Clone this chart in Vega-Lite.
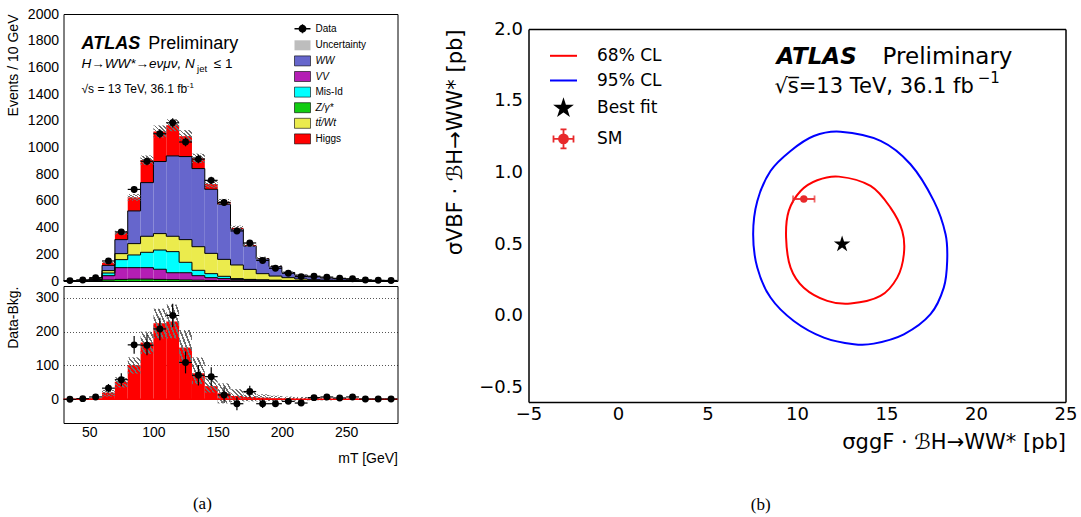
{
  "$schema": "https://vega.github.io/schema/vega-lite/v6.json",
  "background": "white",
  "padding": {"left": 5.5, "top": 7, "right": 2, "bottom": 2},
  "config": {
    "view": {"stroke": null},
    "font": "Liberation Sans",
    "axis": {"domainColor": "black", "tickColor": "black", "labelColor": "black", "titleColor": "black", "grid": false, "tickSize": 0, "labelOverlap": false, "labelFlush": false, "titleFontWeight": "normal"}
  },
  "datasets": {
    "bins": [
      {"lo":30,"hi":40,"c":35,"Z":0.3,"VV":0.5,"MisId":0.5,"top":0.5,"WW":1,"Higgs":0.2,"tl":2,"th":4,"d":3,"e":1.7,"diff":0,"bl":-1,"bh":1},
      {"lo":40,"hi":50,"c":45,"Z":0.5,"VV":1,"MisId":1,"top":1,"WW":2.5,"Higgs":1,"tl":5.5,"th":8.5,"d":8,"e":2.8,"diff":2,"bl":-1.5,"bh":2},
      {"lo":50,"hi":60,"c":55,"Z":1,"VV":4,"MisId":4,"top":3,"WW":6,"Higgs":3,"tl":18,"th":24,"d":25,"e":5,"diff":7,"bl":-2,"bh":5},
      {"lo":60,"hi":70,"c":65,"Z":8,"VV":32,"MisId":20,"top":18,"WW":39,"Higgs":20,"tl":129,"th":145,"d":150,"e":12.2,"diff":33,"bl":8,"bh":28},
      {"lo":70,"hi":80,"c":75,"Z":12,"VV":88,"MisId":60,"top":45,"WW":105,"Higgs":52,"tl":347,"th":377,"d":368,"e":19.2,"diff":58,"bl":35,"bh":65},
      {"lo":80,"hi":90,"c":85,"Z":14,"VV":86,"MisId":95,"top":85,"WW":245,"Higgs":101,"tl":601,"th":651,"d":686,"e":26.2,"diff":161,"bl":76,"bh":124},
      {"lo":90,"hi":100,"c":95,"Z":14,"VV":86,"MisId":115,"top":120,"WW":402,"Higgs":168,"tl":870,"th":940,"d":897,"e":30,"diff":160,"bl":134,"bh":200},
      {"lo":100,"hi":110,"c":105,"Z":12,"VV":76,"MisId":144,"top":123,"WW":540,"Higgs":225,"tl":1075,"th":1165,"d":1103,"e":33.2,"diff":208,"bl":180,"bh":268},
      {"lo":110,"hi":120,"c":115,"Z":10,"VV":52,"MisId":158,"top":115,"WW":602,"Higgs":230,"tl":1122,"th":1212,"d":1185,"e":34.4,"diff":248,"bl":180,"bh":280},
      {"lo":120,"hi":130,"c":125,"Z":8,"VV":54,"MisId":78,"top":170,"WW":622,"Higgs":153,"tl":1040,"th":1130,"d":1041,"e":32.3,"diff":109,"bl":105,"bh":205},
      {"lo":130,"hi":140,"c":135,"Z":6,"VV":34,"MisId":40,"top":177,"WW":585,"Higgs":77,"tl":884,"th":954,"d":913,"e":30.2,"diff":71,"bl":45,"bh":124},
      {"lo":140,"hi":150,"c":145,"Z":4,"VV":21,"MisId":30,"top":152,"WW":480,"Higgs":39,"tl":698,"th":754,"d":754,"e":27.5,"diff":67,"bl":20,"bh":62},
      {"lo":150,"hi":160,"c":155,"Z":3,"VV":15,"MisId":17,"top":127,"WW":413,"Higgs":18,"tl":571,"th":615,"d":588,"e":24.2,"diff":13,"bl":-12,"bh":47},
      {"lo":160,"hi":170,"c":165,"Z":2,"VV":10,"MisId":6,"top":102,"WW":268,"Higgs":10,"tl":381,"th":415,"d":375,"e":19.4,"diff":-13,"bl":-8,"bh":30},
      {"lo":170,"hi":180,"c":175,"Z":2,"VV":6,"MisId":4,"top":75,"WW":175,"Higgs":7,"tl":256,"th":282,"d":285,"e":16.9,"diff":23,"bl":-6,"bh":22},
      {"lo":180,"hi":190,"c":185,"Z":1,"VV":5,"MisId":3,"top":46,"WW":112,"Higgs":5,"tl":162,"th":182,"d":154,"e":12.4,"diff":-13,"bl":-6,"bh":15},
      {"lo":190,"hi":200,"c":195,"Z":1,"VV":3,"MisId":2,"top":31,"WW":71,"Higgs":3,"tl":103,"th":119,"d":95,"e":9.7,"diff":-13,"bl":-5,"bh":11},
      {"lo":200,"hi":210,"c":205,"Z":1,"VV":2,"MisId":1,"top":21,"WW":39,"Higgs":2,"tl":60,"th":72,"d":58,"e":7.6,"diff":-6,"bl":-4,"bh":8},
      {"lo":210,"hi":220,"c":215,"Z":0.5,"VV":1.5,"MisId":1,"top":12,"WW":29,"Higgs":1,"tl":40,"th":50,"d":33,"e":5.7,"diff":-11,"bl":-4,"bh":7},
      {"lo":220,"hi":230,"c":225,"Z":0.5,"VV":1,"MisId":0.5,"top":8,"WW":21,"Higgs":1,"tl":28,"th":36,"d":36,"e":6,"diff":5,"bl":-3,"bh":6},
      {"lo":230,"hi":240,"c":235,"Z":0.3,"VV":0.7,"MisId":0.5,"top":5.5,"WW":15,"Higgs":0.5,"tl":19.5,"th":25.5,"d":29,"e":5.4,"diff":7,"bl":-3,"bh":5},
      {"lo":240,"hi":250,"c":245,"Z":0.2,"VV":0.5,"MisId":0.3,"top":4,"WW":11,"Higgs":0.3,"tl":14,"th":19,"d":20,"e":4.5,"diff":4,"bl":-2,"bh":4},
      {"lo":250,"hi":260,"c":255,"Z":0.2,"VV":0.3,"MisId":0.3,"top":2.2,"WW":7,"Higgs":0.2,"tl":8,"th":12,"d":17,"e":4.1,"diff":7,"bl":-2,"bh":3},
      {"lo":260,"hi":270,"c":265,"Z":0.1,"VV":0.2,"MisId":0.2,"top":1.5,"WW":5,"Higgs":0.1,"tl":5.5,"th":8.5,"d":8,"e":2.8,"diff":1,"bl":-1.5,"bh":2},
      {"lo":270,"hi":280,"c":275,"Z":0.1,"VV":0.1,"MisId":0.1,"top":0.7,"WW":3,"Higgs":0.1,"tl":3,"th":5,"d":5,"e":2.2,"diff":1,"bl":-1,"bh":1.5},
      {"lo":280,"hi":290,"c":285,"Z":0.1,"VV":0.1,"MisId":0.1,"top":0.7,"WW":2,"Higgs":0.05,"tl":2,"th":4,"d":4,"e":2,"diff":1,"bl":-1,"bh":1.5}
    ],
    "contours": [
      {"cl":"68% CL","x":12.34,"y":0.971},{"cl":"68% CL","x":14.11,"y":0.906},{"cl":"68% CL","x":15.22,"y":0.755},{"cl":"68% CL","x":15.88,"y":0.592},{"cl":"68% CL","x":15.97,"y":0.43},{"cl":"68% CL","x":15.6,"y":0.267},{"cl":"68% CL","x":14.66,"y":0.139},{"cl":"68% CL","x":12.99,"y":0.086},{"cl":"68% CL","x":11.69,"y":0.105},{"cl":"68% CL","x":10.38,"y":0.197},{"cl":"68% CL","x":9.64,"y":0.337},{"cl":"68% CL","x":9.39,"y":0.546},{"cl":"68% CL","x":9.54,"y":0.732},{"cl":"68% CL","x":10.2,"y":0.871},{"cl":"68% CL","x":11.13,"y":0.946},
      {"cl":"95% CL","x":12.43,"y":1.284},{"cl":"95% CL","x":14.67,"y":1.22},{"cl":"95% CL","x":16.34,"y":1.057},{"cl":"95% CL","x":17.65,"y":0.8},{"cl":"95% CL","x":18.3,"y":0.569},{"cl":"95% CL","x":18.39,"y":0.383},{"cl":"95% CL","x":18.2,"y":0.197},{"cl":"95% CL","x":17.46,"y":0.012},{"cl":"95% CL","x":15.97,"y":-0.128},{"cl":"95% CL","x":14.29,"y":-0.193},{"cl":"95% CL","x":13.18,"y":-0.197},{"cl":"95% CL","x":11.5,"y":-0.151},{"cl":"95% CL","x":9.82,"y":-0.035},{"cl":"95% CL","x":8.52,"y":0.128},{"cl":"95% CL","x":7.78,"y":0.337},{"cl":"95% CL","x":7.55,"y":0.569},{"cl":"95% CL","x":7.78,"y":0.8},{"cl":"95% CL","x":8.52,"y":1.01},{"cl":"95% CL","x":9.64,"y":1.15},{"cl":"95% CL","x":10.94,"y":1.254}
    ],
    "best": [{"x":12.52,"y":0.5}],
    "sm": [{"x":10.38,"y":0.815,"xe":0.6}]
  },
  "resolve": {"scale": {"color": "independent"}, "legend": {"color": "independent"}},
  "spacing": 45,
  "hconcat": [
    {
      "title": {"text": "(a)", "orient": "bottom", "anchor": "middle", "font": "Liberation Serif", "fontSize": 17, "fontWeight": "normal", "color": "black", "offset": 31},
      "spacing": 5,
      "bounds": "flush",
      "vconcat": [
        {
          "width": 334, "height": 267,
          "resolve": {"axis": {"x": "independent", "y": "independent"}},
          "layer": [
            {
              "data": {"name": "bins"},
              "transform": [{"fold": ["Z","VV","MisId","top","WW","Higgs"], "as": ["key","v"]}, {"stack": "v", "groupby": ["lo"], "as": ["s0","s1"]}],
              "mark": {"type": "rect"},
              "encoding": {
                "x": {"field": "lo", "type": "quantitative", "scale": {"domain": [30,290], "nice": false, "zero": false},
                  "axis": {"values": [30,40,50,60,70,80,90,100,110,120,130,140,150,160,170,180,190,200,210,220,230,240,250,260,270,280,290], "labels": false, "title": null,
                    "encode": {"ticks": {"update": {"y2": {"signal": "datum.value % 50 === 0 ? -9 : -4.5"}}}}}},
                "x2": {"field": "hi"},
                "y": {"field": "s0", "type": "quantitative", "scale": {"domain": [0,2000], "nice": false, "zero": false},
                  "axis": {"values": [0,40,80,120,160,200,240,280,320,360,400,440,480,520,560,600,640,680,720,760,800,840,880,920,960,1000,1040,1080,1120,1160,1200,1240,1280,1320,1360,1400,1440,1480,1520,1560,1600,1640,1680,1720,1760,1800,1840,1880,1920,1960,2000],
                    "format": "d", "labelExpr": "datum.value % 200 === 0 ? datum.label : ''", "labelFont": "Liberation Sans", "labelFontSize": 14, "labelPadding": 5,
                    "title": "Events / 10 GeV", "titleFont": "Liberation Sans", "titleFontSize": 14, "titleX": -50, "titleY": 0, "titleAngle": -90, "titleAlign": "right", "titleBaseline": "middle",
                    "encode": {"ticks": {"update": {"x2": {"signal": "datum.value % 200 === 0 ? 9 : 4.5"}}}}}},
                "y2": {"field": "s1"},
                "color": {"field": "key", "type": "nominal",
                  "scale": {"domain": ["Data","Uncertainty","WW","VV","MisId","Z","top","Higgs"], "range": ["#000000","#bdbdbd","#6666cc","#b41eb4","#00ffff","#11cc11","#ebeb4d","#ff0000"]},
                  "legend": {"orient": "none", "legendX": 234, "legendY": 9.7, "title": null, "padding": 0, "labelFont": "Liberation Sans", "labelFontSize": 10, "labelColor": "black", "labelOffset": 8, "symbolSize": 100, "rowPadding": 1.6, "labelLimit": 200,
                    "labelExpr": "({'Data':'Data','Uncertainty':'Uncertainty','WW':'WW','VV':'VV','MisId':'Mis-Id','Z':'Z/γ*','top':'tt̄/Wt','Higgs':'Higgs'})[datum.label]",
                    "encode": {
                      "symbols": {"update": {
                        "shape": {"signal": "datum.value === 'Data' ? 'M0.65,0A0.65,0.65 0 1,1 -0.65,0A0.65,0.65 0 1,1 0.65,0ZM-1.6,0H1.6M0,-0.9V0.9' : 'M-1.6,-1H1.6V1H-1.6Z'"},
                        "stroke": {"signal": "datum.value === 'Uncertainty' ? 'transparent' : 'black'"},
                        "strokeWidth": {"signal": "datum.value === 'Data' ? 1.4 : 0.6"},
                        "opacity": {"value": 1}
                      }},
                      "labels": {"update": {"fontStyle": {"signal": "indexof(['WW','VV','Z','top'], datum.value) >= 0 ? 'italic' : 'normal'"}}}
                    }
                  }
                }
              }
            },
            {
              "data": {"name": "bins"},
              "transform": [{"fold": ["Z","VV","MisId","top","WW","Higgs"], "as": ["key","v"]}, {"stack": "v", "groupby": ["lo"], "as": ["s0","s1"]}, {"filter": "datum.key !== 'Higgs'"}],
              "mark": {"type": "line", "interpolate": "step", "color": "black", "strokeWidth": 1},
              "encoding": {
                "x": {"field": "c", "type": "quantitative", "scale": {"domain": [30,290], "nice": false, "zero": false}, "axis": null},
                "y": {"field": "s1", "type": "quantitative", "scale": {"domain": [0,2000], "nice": false, "zero": false}, "axis": null},
                "detail": {"field": "key"}
              }
            },
            {
              "data": {"name": "bins"},
              "mark": {"type": "rect", "fill": {"gradient": "linear", "x1": 0, "y1": 1, "x2": 1, "y2": 0, "stops": [
                {"offset": 0, "color": "#6f6f6f"}, {"offset": 0.07, "color": "#6f6f6f"}, {"offset": 0.07, "color": "rgba(255,255,255,0)"}, {"offset": 0.1667, "color": "rgba(255,255,255,0)"},
                {"offset": 0.1667, "color": "#6f6f6f"}, {"offset": 0.2367, "color": "#6f6f6f"}, {"offset": 0.2367, "color": "rgba(255,255,255,0)"}, {"offset": 0.3333, "color": "rgba(255,255,255,0)"},
                {"offset": 0.3333, "color": "#6f6f6f"}, {"offset": 0.4033, "color": "#6f6f6f"}, {"offset": 0.4033, "color": "rgba(255,255,255,0)"}, {"offset": 0.5, "color": "rgba(255,255,255,0)"},
                {"offset": 0.5, "color": "#6f6f6f"}, {"offset": 0.57, "color": "#6f6f6f"}, {"offset": 0.57, "color": "rgba(255,255,255,0)"}, {"offset": 0.6667, "color": "rgba(255,255,255,0)"},
                {"offset": 0.6667, "color": "#6f6f6f"}, {"offset": 0.7367, "color": "#6f6f6f"}, {"offset": 0.7367, "color": "rgba(255,255,255,0)"}, {"offset": 0.8333, "color": "rgba(255,255,255,0)"},
                {"offset": 0.8333, "color": "#6f6f6f"}, {"offset": 0.9033, "color": "#6f6f6f"}, {"offset": 0.9033, "color": "rgba(255,255,255,0)"}, {"offset": 1, "color": "rgba(255,255,255,0)"}]}},
              "encoding": {
                "x": {"field": "lo", "type": "quantitative", "scale": {"domain": [30,290], "nice": false, "zero": false}, "axis": null},
                "x2": {"field": "hi"},
                "y": {"field": "tl", "type": "quantitative", "scale": {"domain": [0,2000], "nice": false, "zero": false}, "axis": null},
                "y2": {"field": "th"}
              }
            },
            {
              "data": {"name": "bins"},
              "mark": {"type": "rule", "color": "black", "strokeWidth": 1.2},
              "encoding": {
                "x": {"field": "lo", "type": "quantitative", "scale": {"domain": [30,290], "nice": false, "zero": false}, "axis": null},
                "x2": {"field": "hi"},
                "y": {"field": "d", "type": "quantitative", "scale": {"domain": [0,2000], "nice": false, "zero": false}, "axis": null}
              }
            },
            {
              "data": {"name": "bins"},
              "mark": {"type": "errorbar", "color": "black", "thickness": 1.2},
              "encoding": {
                "x": {"field": "c", "type": "quantitative", "scale": {"domain": [30,290], "nice": false, "zero": false}, "axis": null},
                "y": {"field": "d", "type": "quantitative", "scale": {"domain": [0,2000], "nice": false, "zero": false}, "axis": null},
                "yError": {"field": "e"}
              }
            },
            {
              "data": {"name": "bins"},
              "mark": {"type": "point", "filled": true, "color": "black", "size": 48, "opacity": 1},
              "encoding": {
                "x": {"field": "c", "type": "quantitative", "scale": {"domain": [30,290], "nice": false, "zero": false}, "axis": null},
                "y": {"field": "d", "type": "quantitative", "scale": {"domain": [0,2000], "nice": false, "zero": false}, "axis": null}
              }
            },
            {
              "data": {"values": [{}]},
              "mark": {"type": "text", "text": "ATLAS", "font": "Liberation Sans", "fontSize": 18, "fontWeight": "bold", "fontStyle": "italic", "align": "left", "baseline": "alphabetic", "color": "black"},
              "encoding": {
                "x": {"datum": 44, "type": "quantitative", "scale": {"domain": [30,290], "nice": false, "zero": false},
                  "axis": {"orient": "top", "values": [30,40,50,60,70,80,90,100,110,120,130,140,150,160,170,180,190,200,210,220,230,240,250,260,270,280,290], "labels": false, "title": null,
                    "encode": {"ticks": {"update": {"y2": {"signal": "datum.value % 50 === 0 ? 9 : 4.5"}}}}}},
                "y": {"datum": 1735, "type": "quantitative", "scale": {"domain": [0,2000], "nice": false, "zero": false},
                  "axis": {"orient": "right", "values": [0,40,80,120,160,200,240,280,320,360,400,440,480,520,560,600,640,680,720,760,800,840,880,920,960,1000,1040,1080,1120,1160,1200,1240,1280,1320,1360,1400,1440,1480,1520,1560,1600,1640,1680,1720,1760,1800,1840,1880,1920,1960,2000], "labels": false, "title": null,
                    "encode": {"ticks": {"update": {"x2": {"signal": "datum.value % 200 === 0 ? -9 : -4.5"}}}}}}
              }
            },
            {
              "data": {"values": [{}]},
              "mark": {"type": "text", "text": "Preliminary", "font": "Liberation Sans", "fontSize": 18, "align": "left", "baseline": "alphabetic", "color": "black"},
              "encoding": {
                "x": {"datum": 96, "type": "quantitative", "scale": {"domain": [30,290], "nice": false, "zero": false}, "axis": null},
                "y": {"datum": 1735, "type": "quantitative", "scale": {"domain": [0,2000], "nice": false, "zero": false}, "axis": null}
              }
            },
            {
              "data": {"values": [{}]},
              "mark": {"type": "text", "text": "H→WW*→eνμν, N", "font": "Liberation Sans", "fontSize": 13.5, "fontStyle": "italic", "align": "left", "baseline": "alphabetic", "color": "black"},
              "encoding": {
                "x": {"datum": 44, "type": "quantitative", "scale": {"domain": [30,290], "nice": false, "zero": false}, "axis": null},
                "y": {"datum": 1592, "type": "quantitative", "scale": {"domain": [0,2000], "nice": false, "zero": false}, "axis": null}
              }
            },
            {
              "data": {"values": [{}]},
              "mark": {"type": "text", "text": "jet", "font": "Liberation Sans", "fontSize": 9.5, "align": "left", "baseline": "alphabetic", "color": "black"},
              "encoding": {
                "x": {"datum": 134, "type": "quantitative", "scale": {"domain": [30,290], "nice": false, "zero": false}, "axis": null},
                "y": {"datum": 1568, "type": "quantitative", "scale": {"domain": [0,2000], "nice": false, "zero": false}, "axis": null}
              }
            },
            {
              "data": {"values": [{}]},
              "mark": {"type": "text", "text": "≤ 1", "font": "Liberation Sans", "fontSize": 13.5, "align": "left", "baseline": "alphabetic", "color": "black"},
              "encoding": {
                "x": {"datum": 147, "type": "quantitative", "scale": {"domain": [30,290], "nice": false, "zero": false}, "axis": null},
                "y": {"datum": 1592, "type": "quantitative", "scale": {"domain": [0,2000], "nice": false, "zero": false}, "axis": null}
              }
            },
            {
              "data": {"values": [{}]},
              "mark": {"type": "text", "text": "√s = 13 TeV, 36.1 fb", "font": "Liberation Sans", "fontSize": 12, "align": "left", "baseline": "alphabetic", "color": "black"},
              "encoding": {
                "x": {"datum": 44, "type": "quantitative", "scale": {"domain": [30,290], "nice": false, "zero": false}, "axis": null},
                "y": {"datum": 1410, "type": "quantitative", "scale": {"domain": [0,2000], "nice": false, "zero": false}, "axis": null}
              }
            },
            {
              "data": {"values": [{}]},
              "mark": {"type": "text", "text": "-1", "font": "Liberation Sans", "fontSize": 8, "align": "left", "baseline": "alphabetic", "color": "black"},
              "encoding": {
                "x": {"datum": 126, "type": "quantitative", "scale": {"domain": [30,290], "nice": false, "zero": false}, "axis": null},
                "y": {"datum": 1445, "type": "quantitative", "scale": {"domain": [0,2000], "nice": false, "zero": false}, "axis": null}
              }
            }
          ]
        },
        {
          "width": 334, "height": 137,
          "resolve": {"axis": {"x": "independent", "y": "independent"}},
          "layer": [
            {
              "data": {"name": "bins"},
              "mark": {"type": "rect", "color": "#ff0000"},
              "encoding": {
                "x": {"field": "lo", "type": "quantitative", "scale": {"domain": [30,290], "nice": false, "zero": false},
                  "axis": {"values": [30,40,50,60,70,80,90,100,110,120,130,140,150,160,170,180,190,200,210,220,230,240,250,260,270,280,290], "format": "d",
                    "labelExpr": "datum.value % 50 === 0 ? datum.label : ''", "labelFont": "Liberation Sans", "labelFontSize": 14, "labelPadding": 2,
                    "title": "mT [GeV]", "titleFont": "Liberation Sans", "titleFontSize": 14, "titleAnchor": "end", "titlePadding": 12,
                    "encode": {"ticks": {"update": {"y2": {"signal": "datum.value % 50 === 0 ? -9 : -4.5"}}}}}},
                "x2": {"field": "hi"},
                "y": {"field": "Higgs", "type": "quantitative", "scale": {"domain": [-70,335], "nice": false, "zero": false},
                  "axis": {"values": [-60,-40,-20,0,20,40,60,80,100,120,140,160,180,200,220,240,260,280,300,320], "format": "d",
                    "labelExpr": "datum.value % 100 === 0 ? datum.label : ''", "labelFont": "Liberation Sans", "labelFontSize": 14, "labelPadding": 5,
                    "title": "Data-Bkg.", "titleFont": "Liberation Sans", "titleFontSize": 14, "titleX": -50, "titleY": 0, "titleAngle": -90, "titleAlign": "right", "titleBaseline": "middle",
                    "grid": true, "gridColor": "#555555", "gridDash": [1,2], "gridWidth": 1,
                    "gridOpacity": {"condition": {"test": "datum.value % 100 === 0 && datum.value > 0", "value": 1}, "value": 0},
                    "encode": {"ticks": {"update": {"x2": {"signal": "datum.value % 100 === 0 ? 9 : 4.5"}}}}}},
                "y2": {"datum": 0}
              }
            },
            {
              "data": {"name": "bins"},
              "mark": {"type": "rect", "fill": {"gradient": "linear", "x1": 0, "y1": 1, "x2": 1, "y2": 0, "stops": [
                {"offset": 0, "color": "#6f6f6f"}, {"offset": 0.07, "color": "#6f6f6f"}, {"offset": 0.07, "color": "rgba(255,255,255,0)"}, {"offset": 0.1667, "color": "rgba(255,255,255,0)"},
                {"offset": 0.1667, "color": "#6f6f6f"}, {"offset": 0.2367, "color": "#6f6f6f"}, {"offset": 0.2367, "color": "rgba(255,255,255,0)"}, {"offset": 0.3333, "color": "rgba(255,255,255,0)"},
                {"offset": 0.3333, "color": "#6f6f6f"}, {"offset": 0.4033, "color": "#6f6f6f"}, {"offset": 0.4033, "color": "rgba(255,255,255,0)"}, {"offset": 0.5, "color": "rgba(255,255,255,0)"},
                {"offset": 0.5, "color": "#6f6f6f"}, {"offset": 0.57, "color": "#6f6f6f"}, {"offset": 0.57, "color": "rgba(255,255,255,0)"}, {"offset": 0.6667, "color": "rgba(255,255,255,0)"},
                {"offset": 0.6667, "color": "#6f6f6f"}, {"offset": 0.7367, "color": "#6f6f6f"}, {"offset": 0.7367, "color": "rgba(255,255,255,0)"}, {"offset": 0.8333, "color": "rgba(255,255,255,0)"},
                {"offset": 0.8333, "color": "#6f6f6f"}, {"offset": 0.9033, "color": "#6f6f6f"}, {"offset": 0.9033, "color": "rgba(255,255,255,0)"}, {"offset": 1, "color": "rgba(255,255,255,0)"}]}},
              "encoding": {
                "x": {"field": "lo", "type": "quantitative", "scale": {"domain": [30,290], "nice": false, "zero": false}, "axis": null},
                "x2": {"field": "hi"},
                "y": {"field": "bl", "type": "quantitative", "scale": {"domain": [-70,335], "nice": false, "zero": false}, "axis": null},
                "y2": {"field": "bh"}
              }
            },
            {
              "data": {"values": [{}]},
              "mark": {"type": "rule", "color": "#ff0000", "strokeWidth": 1.5},
              "encoding": {
                "y": {"datum": 0, "type": "quantitative", "scale": {"domain": [-70,335], "nice": false, "zero": false}, "axis": null}
              }
            },
            {
              "data": {"name": "bins"},
              "mark": {"type": "rule", "color": "black", "strokeWidth": 1.2},
              "encoding": {
                "x": {"field": "lo", "type": "quantitative", "scale": {"domain": [30,290], "nice": false, "zero": false}, "axis": null},
                "x2": {"field": "hi"},
                "y": {"field": "diff", "type": "quantitative", "scale": {"domain": [-70,335], "nice": false, "zero": false}, "axis": null}
              }
            },
            {
              "data": {"name": "bins"},
              "mark": {"type": "errorbar", "color": "black", "thickness": 1.2},
              "encoding": {
                "x": {"field": "c", "type": "quantitative", "scale": {"domain": [30,290], "nice": false, "zero": false}, "axis": null},
                "y": {"field": "diff", "type": "quantitative", "scale": {"domain": [-70,335], "nice": false, "zero": false}, "axis": null},
                "yError": {"field": "e"}
              }
            },
            {
              "data": {"name": "bins"},
              "mark": {"type": "point", "filled": true, "color": "black", "size": 48, "opacity": 1},
              "encoding": {
                "x": {"field": "c", "type": "quantitative", "scale": {"domain": [30,290], "nice": false, "zero": false},
                  "axis": {"orient": "top", "values": [30,40,50,60,70,80,90,100,110,120,130,140,150,160,170,180,190,200,210,220,230,240,250,260,270,280,290], "labels": false, "title": null,
                    "encode": {"ticks": {"update": {"y2": {"signal": "datum.value % 50 === 0 ? 9 : 4.5"}}}}}},
                "y": {"field": "diff", "type": "quantitative", "scale": {"domain": [-70,335], "nice": false, "zero": false},
                  "axis": {"orient": "right", "values": [-60,-40,-20,0,20,40,60,80,100,120,140,160,180,200,220,240,260,280,300,320], "labels": false, "title": null,
                    "encode": {"ticks": {"update": {"x2": {"signal": "datum.value % 100 === 0 ? -9 : -4.5"}}}}}}
              }
            }
          ]
        }
      ]
    },
    {
      "title": {"text": "(b)", "orient": "bottom", "anchor": "middle", "font": "Liberation Serif", "fontSize": 17, "fontWeight": "normal", "color": "black", "offset": 45},
      "spacing": 14,
      "bounds": "flush",
      "vconcat": [
        {
          "width": 537, "height": 1,
          "data": {"values": [{}]},
          "mark": {"type": "point", "opacity": 0, "size": 1}
        },
        {
          "width": 537, "height": 373,
          "resolve": {"axis": {"x": "independent", "y": "independent"}},
          "layer": [
            {
              "data": {"name": "contours"},
              "mark": {"type": "line", "interpolate": "cardinal-closed", "strokeWidth": 2},
              "encoding": {
                "x": {"field": "x", "type": "quantitative", "scale": {"domain": [-5,25], "nice": false, "zero": false},
                  "axis": {"values": [-5,-4,-3,-2,-1,0,1,2,3,4,5,6,7,8,9,10,11,12,13,14,15,16,17,18,19,20,21,22,23,24,25], "format": "d",
                    "labelExpr": "datum.value % 5 === 0 ? datum.label : ''", "labelFont": "DejaVu Sans", "labelFontSize": 18, "labelPadding": 3,
                    "domainWidth": 1.5, "tickWidth": 1.2,
                    "title": "σggF · ℬH→WW* [pb]", "titleFont": "DejaVu Sans", "titleFontSize": 21, "titleAnchor": "end", "titlePadding": 8,
                    "encode": {"ticks": {"update": {"y2": {"signal": "datum.value % 5 === 0 ? -8 : -4"}}}}}},
                "y": {"field": "y", "type": "quantitative", "scale": {"domain": [-0.6,2.0], "nice": false, "zero": false},
                  "axis": {"values": [-0.6,-0.5,-0.4,-0.3,-0.2,-0.1,0,0.1,0.2,0.3,0.4,0.5,0.6,0.7,0.8,0.9,1,1.1,1.2,1.3,1.4,1.5,1.6,1.7,1.8,1.9,2], "format": ".1f",
                    "labelExpr": "abs(datum.value*2 - round(datum.value*2)) < 0.000001 ? datum.label : ''", "labelFont": "DejaVu Sans", "labelFontSize": 18, "labelPadding": 6,
                    "domainWidth": 1.5, "tickWidth": 1.2,
                    "title": "σVBF · ℬH→WW* [pb]", "titleFont": "DejaVu Sans", "titleFontSize": 21, "titleX": -73, "titleY": 0, "titleAngle": -90, "titleAlign": "right", "titleBaseline": "middle",
                    "encode": {"ticks": {"update": {"x2": {"signal": "abs(datum.value*2 - round(datum.value*2)) < 0.000001 ? 8 : 4"}}}}}},
                "color": {"field": "cl", "type": "nominal",
                  "scale": {"domain": ["68% CL","95% CL","Best fit","SM"], "range": ["#ff0000","#0000ff","#000000","#e8292b"]},
                  "legend": {"orient": "none", "legendX": 26.5, "legendY": 33.3, "title": null, "padding": 0, "labelFont": "DejaVu Sans", "labelFontSize": 17, "labelColor": "black", "labelOffset": 25, "symbolSize": 400, "rowPadding": 6.7, "labelLimit": 300,
                    "encode": {"symbols": {"update": {
                      "shape": {"signal": "datum.value === 'Best fit' ? 'M0,-0.77L0.173,-0.238L0.732,-0.238L0.28,0.091L0.453,0.623L0,0.294L-0.453,0.623L-0.28,0.091L-0.732,-0.238L-0.173,-0.238Z' : datum.value === 'SM' ? 'M0.45,0A0.45,0.45 0 1,1 -0.45,0A0.45,0.45 0 1,1 0.45,0ZM-1,0H1M-1,-0.35V0.35M1,-0.35V0.35M0,-0.95V0.95M-0.3,-0.95H0.3M-0.3,0.95H0.3' : 'M-1.35,0H1.35'"},
                      "fill": {"signal": "datum.value === 'Best fit' ? 'black' : datum.value === 'SM' ? '#e8292b' : 'transparent'"},
                      "stroke": {"signal": "datum.value === '68% CL' ? '#ff0000' : datum.value === '95% CL' ? '#0000ff' : datum.value === 'SM' ? '#e8292b' : 'transparent'"},
                      "strokeWidth": {"signal": "datum.value === 'SM' ? 1.8 : 2"},
                      "opacity": {"value": 1}
                    }}}
                  }
                },
                "order": {"value": null}
              }
            },
            {
              "data": {"name": "best"},
              "mark": {"type": "point", "shape": "M0,-1L0.2245,-0.309L0.951,-0.309L0.363,0.118L0.588,0.809L0,0.382L-0.588,0.809L-0.363,0.118L-0.951,-0.309L-0.2245,-0.309Z", "filled": true, "color": "black", "size": 303, "opacity": 1},
              "encoding": {
                "x": {"field": "x", "type": "quantitative", "scale": {"domain": [-5,25], "nice": false, "zero": false}, "axis": null},
                "y": {"field": "y", "type": "quantitative", "scale": {"domain": [-0.6,2.0], "nice": false, "zero": false}, "axis": null}
              }
            },
            {
              "data": {"name": "sm"},
              "mark": {"type": "errorbar", "color": "#e8292b", "thickness": 1.8, "ticks": {"size": 7, "thickness": 1.8}},
              "encoding": {
                "x": {"field": "x", "type": "quantitative", "scale": {"domain": [-5,25], "nice": false, "zero": false}, "axis": null},
                "xError": {"field": "xe"},
                "y": {"field": "y", "type": "quantitative", "scale": {"domain": [-0.6,2.0], "nice": false, "zero": false}, "axis": null}
              }
            },
            {
              "data": {"name": "sm"},
              "mark": {"type": "point", "filled": true, "color": "#e8292b", "size": 55, "opacity": 1},
              "encoding": {
                "x": {"field": "x", "type": "quantitative", "scale": {"domain": [-5,25], "nice": false, "zero": false}, "axis": null},
                "y": {"field": "y", "type": "quantitative", "scale": {"domain": [-0.6,2.0], "nice": false, "zero": false}, "axis": null}
              }
            },
            {
              "data": {"values": [{}]},
              "mark": {"type": "text", "text": "ATLAS", "font": "DejaVu Sans", "fontSize": 23, "fontWeight": "bold", "fontStyle": "italic", "align": "left", "baseline": "alphabetic", "color": "black"},
              "encoding": {
                "x": {"datum": 8.85, "type": "quantitative", "scale": {"domain": [-5,25], "nice": false, "zero": false},
                  "axis": {"orient": "top", "values": [-5,-4,-3,-2,-1,0,1,2,3,4,5,6,7,8,9,10,11,12,13,14,15,16,17,18,19,20,21,22,23,24,25], "labels": false, "title": null,
                    "domainWidth": 1.5, "tickWidth": 1.2,
                    "encode": {"ticks": {"update": {"y2": {"signal": "datum.value % 5 === 0 ? 8 : 4"}}}}}},
                "y": {"datum": 1.754, "type": "quantitative", "scale": {"domain": [-0.6,2.0], "nice": false, "zero": false},
                  "axis": {"orient": "right", "values": [-0.6,-0.5,-0.4,-0.3,-0.2,-0.1,0,0.1,0.2,0.3,0.4,0.5,0.6,0.7,0.8,0.9,1,1.1,1.2,1.3,1.4,1.5,1.6,1.7,1.8,1.9,2], "labels": false, "title": null,
                    "domainWidth": 1.5, "tickWidth": 1.2,
                    "encode": {"ticks": {"update": {"x2": {"signal": "abs(datum.value*2 - round(datum.value*2)) < 0.000001 ? -8 : -4"}}}}}}
              }
            },
            {
              "data": {"values": [{}]},
              "mark": {"type": "text", "text": "Preliminary", "font": "DejaVu Sans", "fontSize": 23, "align": "left", "baseline": "alphabetic", "color": "black"},
              "encoding": {
                "x": {"datum": 14.78, "type": "quantitative", "scale": {"domain": [-5,25], "nice": false, "zero": false}, "axis": null},
                "y": {"datum": 1.754, "type": "quantitative", "scale": {"domain": [-0.6,2.0], "nice": false, "zero": false}, "axis": null}
              }
            },
            {
              "data": {"values": [{}]},
              "mark": {"type": "text", "text": "√s̅=13 TeV, 36.1 fb", "font": "DejaVu Sans", "fontSize": 21, "align": "left", "baseline": "alphabetic", "color": "black"},
              "encoding": {
                "x": {"datum": 8.74, "type": "quantitative", "scale": {"domain": [-5,25], "nice": false, "zero": false}, "axis": null},
                "y": {"datum": 1.556, "type": "quantitative", "scale": {"domain": [-0.6,2.0], "nice": false, "zero": false}, "axis": null}
              }
            },
            {
              "data": {"values": [{}]},
              "mark": {"type": "text", "text": "−1", "font": "DejaVu Sans", "fontSize": 15, "align": "left", "baseline": "alphabetic", "color": "black"},
              "encoding": {
                "x": {"datum": 20.1, "type": "quantitative", "scale": {"domain": [-5,25], "nice": false, "zero": false}, "axis": null},
                "y": {"datum": 1.624, "type": "quantitative", "scale": {"domain": [-0.6,2.0], "nice": false, "zero": false}, "axis": null}
              }
            }
          ]
        }
      ]
    }
  ]
}
